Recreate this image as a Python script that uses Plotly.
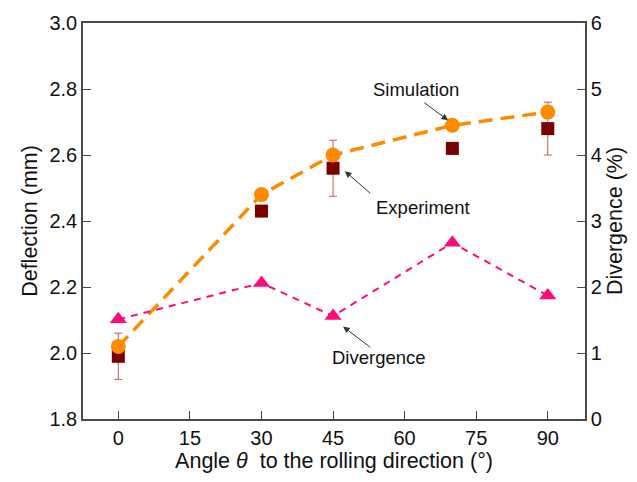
import plotly.graph_objects as go

# Data
angle = [0, 30, 45, 70, 90]
simulation = [2.02, 2.48, 2.60, 2.69, 2.73]
experiment = [1.99, 2.43, 2.56, 2.62, 2.68]
exp_error = [0.07, 0, 0.085, 0, 0.08]
divergence = [1.51, 2.06, 1.56, 2.67, 1.87]

x_ticks = [0, 15, 30, 45, 60, 75, 90]
left_ticks = [1.8, 2.0, 2.2, 2.4, 2.6, 2.8, 3.0]
right_ticks = [0, 1, 2, 3, 4, 5, 6]

FONT = "Liberation Sans, Arial, sans-serif"
AXIS_COLOR = "#4a4a4a"
TEXT_COLOR = "#111111"

fig = go.Figure()

# Divergence (right axis)
fig.add_trace(go.Scatter(
    x=angle, y=divergence, yaxis="y2", mode="lines+markers",
    line=dict(color="#FF0A78", width=2, dash="7px,6px"),
    marker=dict(symbol="triangle-up", size=15, color="#FF0A78"),
    showlegend=False,
))

# Experiment with error bars
fig.add_trace(go.Scatter(
    x=angle, y=experiment, mode="markers",
    marker=dict(symbol="square", size=13, color="#7A0000"),
    error_y=dict(type="data", array=exp_error, visible=True,
                 color="#C05A5A", thickness=1, width=4),
    showlegend=False,
))

# Simulation
fig.add_trace(go.Scatter(
    x=angle, y=simulation, mode="lines+markers",
    line=dict(color="#FF8A00", width=3.5, dash="14px,8px"),
    marker=dict(symbol="circle", size=15, color="#FF8A00"),
    showlegend=False,
))

arrow_style = dict(showarrow=True, arrowhead=2, arrowsize=1.3, arrowwidth=1,
                   arrowcolor="#333333", axref="x", ayref="y", text="")
text_style = dict(showarrow=False, font=dict(family=FONT, size=18.5, color=TEXT_COLOR))

annotations = [
    dict(x=69.1, y=2.705, ax=63.8, ay=2.762, **arrow_style),
    dict(x=62.4, y=2.80, text="Simulation", **text_style),
    dict(x=47.5, y=2.551, ax=53.1, ay=2.48, **arrow_style),
    dict(x=63.8, y=2.44, text="Experiment", **text_style),
    dict(x=47.1, y=2.08, ax=53.1, ay=2.014, **arrow_style),
    dict(x=54.6, y=1.985, text="Divergence", **text_style),
]

axis_common = dict(
    showline=True, linecolor=AXIS_COLOR, linewidth=1.5,
    ticks="inside", ticklen=8, tickwidth=1.2, tickcolor=AXIS_COLOR,
    showgrid=False, zeroline=False,
    tickfont=dict(family=FONT, size=20, color=TEXT_COLOR),
)
title_font = dict(family=FONT, size=21.5, color=TEXT_COLOR)

fig.update_layout(
    width=637, height=482,
    margin=dict(l=83, r=52, t=18, b=63),
    paper_bgcolor="white", plot_bgcolor="white",
    xaxis=dict(range=[-7.4, 97.8], tickvals=x_ticks, mirror=True,
               title=dict(text="Angle <i>θ</i>  to the rolling direction (°)",
                          font=title_font, standoff=4),
               **axis_common),
    yaxis=dict(range=[1.8, 3.0], tickvals=left_ticks, tickformat=".1f",
               title=dict(text="Deflection (mm)", font=title_font, standoff=6),
               **axis_common),
    yaxis2=dict(range=[0, 6], tickvals=right_ticks, overlaying="y", side="right",
                title=dict(text="Divergence (%)", font=title_font, standoff=6),
                **axis_common),
    annotations=annotations,
)

fig.write_html("out.html")
